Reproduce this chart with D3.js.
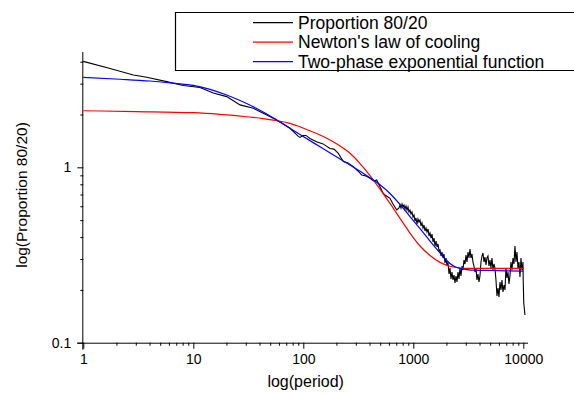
<!DOCTYPE html>
<html>
<head>
<meta charset="utf-8">
<script src="https://cdn.jsdelivr.net/npm/d3@7"></script>
<style>
  body { margin: 0; background: #fff; }
  text { font-family: Arial, "Liberation Sans", sans-serif; fill: #000; }
</style>
</head>
<body>
<div id="chart"></div>
<script>
// Series: [period, proportion 80/20]
const observed = [
    [1, 4.02], [1.75, 3.66], [2.85, 3.36], [3.77, 3.26], [5.73, 3.08], [8.11, 2.93],
    [11.5, 2.85], [15.2, 2.65], [20.1, 2.53], [26.6, 2.27], [35.1, 2.17], [46.5, 1.99],
    [57.3, 1.86], [75.7, 1.67], [90.1, 1.50], [93.3, 1.48], [99.4, 1.52], [105.8, 1.52],
    [115, 1.46], [132, 1.40], [151, 1.36], [175, 1.28], [190, 1.27], [208, 1.20],
    [231, 1.08], [255, 1.06], [285, 1.01], [314, 0.953], [340, 0.904], [372, 0.892],
    [404, 0.866], [439, 0.835], [465, 0.846], [498, 0.775], [530, 0.714], [553, 0.695],
    [589, 0.677], [614, 0.666], [654, 0.618], [707, 0.571], [741, 0.586],
    [757, 0.6096], [773, 0.5859], [790, 0.6177], [806, 0.5937], [823, 0.6096],
    [841, 0.5783], [858, 0.6016], [877, 0.5708], [895, 0.5937], [914, 0.5560],
    [933, 0.5708], [953, 0.5416], [973, 0.5560], [994, 0.5208], [1015, 0.5346],
    [1036, 0.4941], [1058, 0.5140], [1081, 0.4750], [1103, 0.5073], [1127, 0.4877],
    [1151, 0.5006], [1175, 0.4627], [1200, 0.4813], [1225, 0.4507], [1251, 0.4688],
    [1278, 0.4333], [1305, 0.4507], [1332, 0.4276], [1361, 0.4448], [1389, 0.4057],
    [1419, 0.4220], [1449, 0.3952], [1479, 0.4165], [1511, 0.3750], [1543, 0.3952],
    [1575, 0.3558], [1609, 0.3800], [1643, 0.3512], [1677, 0.3653], [1713, 0.3333],
    [1749, 0.3377], [1786, 0.3121], [1824, 0.3290], [1862, 0.3040], [1901, 0.3205],
    [1941, 0.2847], [1982, 0.3040], [2024, 0.2737], [2067, 0.2884], [2111, 0.2464],
    [2155, 0.2666], [2201, 0.2308], [2247, 0.2530], [2295, 0.2278], [2343, 0.2432],
    [2393, 0.2190], [2444, 0.2400], [2495, 0.2219], [2548, 0.2530], [2602, 0.2308],
    [2657, 0.2666], [2713, 0.2400], [2771, 0.2737], [2829, 0.2597], [2889, 0.2960],
    [2950, 0.2810], [3012, 0.3162], [3076, 0.2884], [3141, 0.3290], [3208, 0.3040],
    [3275, 0.3421], [3344, 0.3040], [3415, 0.3205], [3487, 0.2884], [3561, 0.2737],
    [3636, 0.2530], [3713, 0.2666], [3792, 0.2278], [3872, 0.2464], [3954, 0.2219],
    [4037, 0.2400], [4123, 0.2884], [4210, 0.3121], [4299, 0.3247], [4390, 0.2884],
    [4483, 0.3080], [4578, 0.2773], [4675, 0.3040], [4773, 0.3121], [4874, 0.2737],
    [4977, 0.2960], [5083, 0.2666], [5190, 0.3040], [5300, 0.2597], [5412, 0.2810],
    [5526, 0.2666], [5643, 0.2278], [5763, 0.1846], [5885, 0.2050], [6009, 0.1822],
    [6136, 0.2219], [6266, 0.1998], [6399, 0.2278], [6534, 0.1946], [6672, 0.2133],
    [6813, 0.1998], [6957, 0.2666], [7105, 0.2338], [7255, 0.2530], [7408, 0.2161],
    [7564, 0.2400], [7724, 0.2884], [7888, 0.2597], [8055, 0.3040], [8225, 0.2810],
    [8399, 0.3558], [8577, 0.2884], [8758, 0.3290], [8943, 0.2666], [9132, 0.2884],
    [9325, 0.2369], [9522, 0.3040], [9724, 0.2597], [9929, 0.2884],
    [9992, 0.219], [10100, 0.168], [10354, 0.1438]
];

const newton = [
    [1, 2.102], [3, 2.08], [10, 2.048], [17.5, 2.005], [30.6, 1.943], [43.0, 1.897],
    [57.3, 1.844], [75.7, 1.782], [93.3, 1.702], [115, 1.615], [142, 1.528], [175, 1.431],
    [216, 1.322], [266, 1.202], [328, 1.051], [404, 0.898], [498, 0.752], [614, 0.623],
    [757, 0.512], [933, 0.422], [1151, 0.356], [1419, 0.314], [1749, 0.287], [2156, 0.273],
    [2658, 0.267], [3277, 0.265], [10000, 0.265]
];

const twoPhase = [
    [1, 3.259], [2.16, 3.179], [4.0, 3.105], [6.82, 3.012], [10, 2.934], [14.2, 2.785],
    [20.1, 2.584], [26.6, 2.403], [35.1, 2.216], [44.9, 2.040], [57.3, 1.861], [72.6, 1.698],
    [93.3, 1.538], [142, 1.309], [216, 1.115], [328, 0.949], [433, 0.847], [498, 0.795],
    [614, 0.709], [757, 0.614], [933, 0.524], [1151, 0.447], [1419, 0.380], [1749, 0.325],
    [1942, 0.301], [2156, 0.283], [2394, 0.271], [2658, 0.265], [3078, 0.261], [3489, 0.259],
    [4981, 0.258], [10000, 0.256]
];

const seriesNames = ["Proportion 80/20", "Newton's law of cooling", "Two-phase exponential function"];
const seriesColors = ["#000000", "#ff0000", "#0000ff"];

const xMajor = [1, 10, 100, 1000, 10000];
const yMajor = [0.1, 1];

// layout
const width = 574, height = 394;
const plot = {left: 83.3, right: 528, top: 52, bottom: 342.7};

const svg = d3.select("#chart").append("svg")
    .attr("width", width)
    .attr("height", height);

const x = d3.scaleLog().domain([1, 11033]).range([plot.left, plot.right]);
const y = d3.scaleLog().domain([0.1, 4.545]).range([plot.bottom, plot.top]);

// minor ticks: 2..9 of each decade, inside the domain
const xMinor = [];
for (let d = 1; d <= 10000; d *= 10) for (let k = 2; k <= 9; k++) if (d * k <= 11033) xMinor.push(d * k);
const yMinor = [];
for (let d = 0.1; d <= 1; d *= 10) for (let k = 2; k <= 9; k++) if (d * k <= 4.545) yMinor.push(+(d * k).toFixed(2));

// x axis
const gx = svg.append("g").attr("transform", `translate(0,${plot.bottom})`);
gx.call(d3.axisBottom(x).tickValues(xMinor).tickSize(3).tickSizeOuter(0).tickFormat(""));
gx.call(g => g.select(".domain").remove());
const gx2 = svg.append("g").attr("transform", `translate(0,${plot.bottom})`)
    .call(d3.axisBottom(x).tickValues(xMajor).tickSize(6).tickSizeOuter(0).tickPadding(5).tickFormat(d3.format("d")));
gx2.select(".domain").attr("d", `M${plot.left - 6},0.5H${plot.right}`);
gx2.selectAll("text").style("font-size", "14px");

// y axis
const gy = svg.append("g").attr("transform", `translate(${plot.left},0)`);
gy.call(d3.axisLeft(y).tickValues(yMinor).tickSize(3).tickSizeOuter(0).tickFormat(""));
gy.call(g => g.select(".domain").remove());
const gy2 = svg.append("g").attr("transform", `translate(${plot.left},0)`)
    .call(d3.axisLeft(y).tickValues(yMajor).tickSize(6).tickSizeOuter(0).tickPadding(6).tickFormat(d => d));
gy2.select(".domain").attr("d", `M-0.5,${plot.top}V${plot.bottom + 7}`);
gy2.selectAll("text").style("font-size", "14px");

svg.selectAll(".tick line").attr("stroke", "#000");
svg.selectAll(".domain").attr("stroke", "#000");

// axis titles
svg.append("text")
    .attr("x", (plot.left + plot.right) / 2)
    .attr("y", 387)
    .attr("text-anchor", "middle")
    .style("font-size", "16px")
    .text("log(period)");

svg.append("text")
    .attr("transform", "translate(27,195) rotate(-90)")
    .attr("text-anchor", "middle")
    .style("font-size", "15.5px")
    .text("log(Proportion 80/20)");

// lines
const rawLine = d3.line().x(d => x(d[0])).y(d => y(d[1]));
const smoothLine = d3.line().x(d => x(d[0])).y(d => y(d[1])).curve(d3.curveMonotoneX);

svg.append("path").attr("d", rawLine(observed))
    .attr("fill", "none").attr("stroke", seriesColors[0]).attr("stroke-width", 1.1);
svg.append("path").attr("d", smoothLine(newton))
    .attr("fill", "none").attr("stroke", seriesColors[1]).attr("stroke-width", 1.2);
svg.append("path").attr("d", smoothLine(twoPhase))
    .attr("fill", "none").attr("stroke", seriesColors[2]).attr("stroke-width", 1.2);

// legend
const lg = {left: 175.5, right: 574, top: 12.5, bottom: 70.5};
svg.append("path")
    .attr("d", `M${lg.right},${lg.top}H${lg.left}V${lg.bottom}H${lg.right}`)
    .attr("fill", "#fff").attr("stroke", "#000").attr("stroke-width", 1.2);

const items = svg.selectAll(".legend")
    .data(seriesNames)
    .join("g")
    .attr("class", "legend")
    .attr("transform", (d, i) => `translate(0,${22.7 + i * 19.5})`);

items.append("line")
    .attr("x1", 253).attr("x2", 293)
    .attr("stroke", (d, i) => seriesColors[i])
    .attr("stroke-width", 1.2);

items.append("text")
    .attr("x", 298)
    .attr("dy", "0.35em")
    .style("font-size", "17.5px")
    .text(d => d);
</script>
</body>
</html>
